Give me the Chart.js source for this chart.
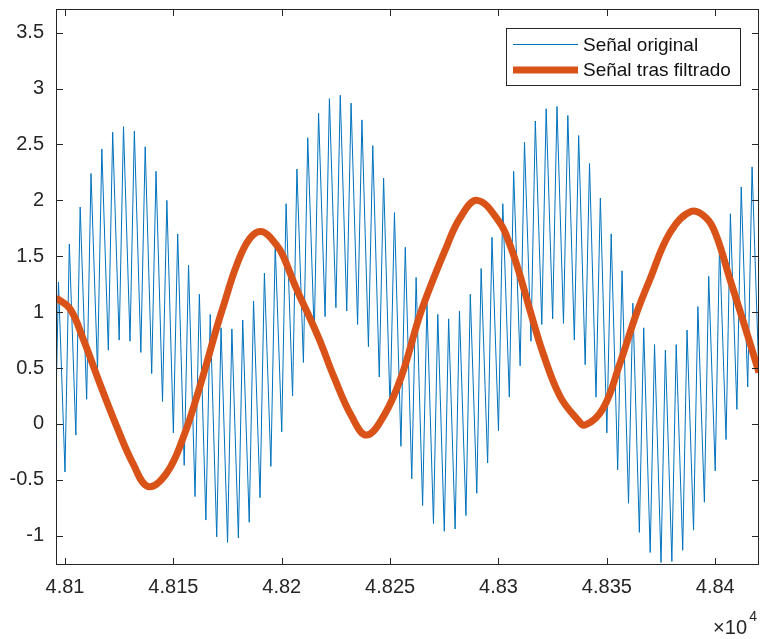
<!DOCTYPE html>
<html>
<head>
<meta charset="utf-8">
<script src="https://cdn.jsdelivr.net/npm/chart.js@4.4.0/dist/chart.umd.min.js"></script>
<style>
  html, body { margin: 0; padding: 0; background: #fff; }
</style>
</head>
<body>
<canvas id="chart" width="761" height="639"></canvas>
<script>
// ── Data ──────────────────────────────────────────────────────────────────────
// original signal: sample index of first spike, spike spacing, peak→trough gap
const firstPeakX   = 48097;
const spikePeriod  = 5;
const troughOffset = 3;
const edgeX        = 48095.85;   // left edge of the view
const edgeValue    = 0.19;

const peakValues = [
    1.27, 1.61, 1.94, 2.24, 2.46, 2.61, 2.66, 2.62, 2.48, 2.26,
    2.00, 1.70, 1.42, 1.16, 0.98, 0.86, 0.85, 0.93, 1.10, 1.35,
    1.60, 1.97, 2.28, 2.56, 2.78, 2.91, 2.94, 2.87, 2.72, 2.49,
    2.20, 1.89, 1.58, 1.31, 1.08, 0.98, 0.94, 1.01, 1.16, 1.39,
    1.67, 1.97, 2.26, 2.52, 2.71, 2.82, 2.84, 2.76, 2.58, 2.33,
    2.02, 1.70, 1.37, 1.08, 0.86, 0.71, 0.66, 0.71, 0.84, 1.05,
    1.32, 1.61, 1.88, 2.12, 2.30
];
const troughValues = [
    -0.43, -0.10, 0.22, 0.48, 0.66, 0.75, 0.74, 0.64, 0.45, 0.20,
    -0.08, -0.37, -0.65, -0.86, -1.01, -1.06, -1.02, -0.88, -0.66, -0.38,
    -0.07, 0.25, 0.55, 0.80, 0.96, 1.04, 1.01, 0.89, 0.69, 0.42,
    0.13, -0.20, -0.49, -0.73, -0.89, -0.96, -0.94, -0.82, -0.62, -0.35,
    -0.06, 0.24, 0.52, 0.74, 0.89, 0.94, 0.90, 0.75, 0.53, 0.24,
    -0.08, -0.41, -0.71, -0.97, -1.15, -1.24, -1.23, -1.13, -0.95, -0.70,
    -0.42, -0.14, 0.13, 0.33, 0.52
];

// filtered signal, read at points along the curve
const filteredX = [
    48095.8, 48102.3, 48108.4, 48116.1, 48123.8, 48131.5, 48138.4, 48146.9, 48154.6, 48162.3,
    48170.0, 48173.0, 48179.2, 48185.3, 48191.0, 48197.6, 48200.7, 48206.1, 48216.8, 48224.5,
    48232.2, 48239.2, 48247.6, 48255.3, 48263.0, 48267.6, 48275.3, 48282.2, 48290.2, 48300.6,
    48305.3, 48309.9, 48314.5, 48320.6, 48328.3, 48336.0, 48340.0, 48348.3, 48356.0, 48363.7,
    48369.8, 48379.1, 48388.8, 48396.0, 48400.6, 48406.7, 48412.9, 48420.2
];
const filteredValues = [
    1.13, 1.03, 0.76, 0.36, -0.02, -0.36, -0.56, -0.44, -0.12, 0.34,
    0.86, 1.05, 1.42, 1.66, 1.72, 1.60, 1.50, 1.24, 0.78, 0.40,
    0.07, -0.10, 0.09, 0.43, 0.93, 1.18, 1.55, 1.84, 2.00, 1.80,
    1.60, 1.33, 1.02, 0.63, 0.25, 0.05, -0.01, 0.14, 0.54, 0.99,
    1.29, 1.71, 1.90, 1.84, 1.68, 1.30, 0.92, 0.46
];

const seriesLabels = ['Señal original', 'Señal tras filtrado'];
const xRange = [48095.85, 48420.2];
const yRange = [-1.262, 3.712];
const xStep = 50;
const yStep = 0.5;

const BLUE = '#0072BD';
const RED  = '#D95319';
const AXIS = '#262626';
const FONT = "'Liberation Sans', Arial, Helvetica, sans-serif";

// ── Build point lists ─────────────────────────────────────────────────────────
const originalPoints = [{ x: edgeX, y: edgeValue }];
peakValues.forEach((v, i) => {
    const px = firstPeakX + i * spikePeriod;
    originalPoints.push({ x: px, y: v });
    originalPoints.push({ x: px + troughOffset, y: troughValues[i] });
});

const filteredPoints = filteredX.map((x, i) => ({ x, y: filteredValues[i] }));

// ── MATLAB-style box, inward ticks, legend and exponent ──────────────────────
const matlabFrame = {
    id: 'matlabFrame',
    afterDraw(chart) {
        const { ctx, chartArea: a, scales } = chart;
        const tick = 7;
        ctx.save();
        ctx.strokeStyle = AXIS;
        ctx.lineWidth = 1;
        ctx.strokeRect(a.left + 0.5, a.top + 0.5, a.right - a.left - 1, a.bottom - a.top - 1);

        ctx.beginPath();
        scales.x.ticks.forEach(t => {
            const px = Math.round(scales.x.getPixelForValue(t.value)) + 0.5;
            ctx.moveTo(px, a.bottom); ctx.lineTo(px, a.bottom - tick);
            ctx.moveTo(px, a.top);    ctx.lineTo(px, a.top + tick);
        });
        scales.y.ticks.forEach(t => {
            const py = Math.round(scales.y.getPixelForValue(t.value)) + 0.5;
            ctx.moveTo(a.left, py);  ctx.lineTo(a.left + tick, py);
            ctx.moveTo(a.right, py); ctx.lineTo(a.right - tick, py);
        });
        ctx.stroke();

        // legend
        const box = { x: 506.5, y: 28.5, w: 234, h: 57 };
        ctx.fillStyle = '#fff';
        ctx.fillRect(box.x, box.y, box.w, box.h);
        ctx.strokeRect(box.x, box.y, box.w, box.h);
        const rows = [
            { label: seriesLabels[0], color: BLUE, width: 1, y: 44.5 },
            { label: seriesLabels[1], color: RED,  width: 7, y: 70 }
        ];
        ctx.font = '19px ' + FONT;
        ctx.textBaseline = 'middle';
        ctx.textAlign = 'left';
        rows.forEach(r => {
            ctx.beginPath();
            ctx.strokeStyle = r.color;
            ctx.lineWidth = r.width;
            ctx.moveTo(513, r.y); ctx.lineTo(578, r.y);
            ctx.stroke();
            ctx.fillStyle = '#111';
            ctx.fillText(r.label, 583, r.y + 1);
        });

        // ×10^4
        ctx.fillStyle = AXIS;
        ctx.textBaseline = 'alphabetic';
        ctx.textAlign = 'right';
        ctx.font = '20px ' + FONT;
        ctx.fillText('\u00d710', 747, 634);
        ctx.font = '14px ' + FONT;
        ctx.fillText('4', 757, 621);
        ctx.restore();
    }
};

Chart.defaults.font.family = FONT;
Chart.defaults.font.size = 20;
Chart.defaults.color = AXIS;

new Chart(document.getElementById('chart'), {
    type: 'line',
    data: {
        datasets: [
            {
                label: seriesLabels[1],
                data: filteredPoints,
                borderColor: RED,
                borderWidth: 7,
                pointRadius: 0,
                tension: 0.4,
                order: 0
            },
            {
                label: seriesLabels[0],
                data: originalPoints,
                borderColor: BLUE,
                borderWidth: 1,
                pointRadius: 0,
                tension: 0,
                order: 1
            }
        ]
    },
    options: {
        responsive: false,
        animation: false,
        layout: { padding: { top: 9, right: 2, left: 0, bottom: 0 } },
        plugins: { legend: { display: false }, tooltip: { enabled: false } },
        scales: {
            x: {
                type: 'linear',
                min: xRange[0],
                max: xRange[1],
                grid: { display: false, drawTicks: false },
                border: { display: false },
                ticks: {
                    stepSize: xStep,
                    includeBounds: false,
                    maxRotation: 0,
                    padding: 10,
                    callback: v => String(+(v / 1e4).toFixed(4))
                },
                afterFit: s => {
                    s.height = 74;
                    s.paddingLeft = 0;
                    s.paddingRight = 0;
                }
            },
            y: {
                type: 'linear',
                min: yRange[0],
                max: yRange[1],
                grid: { display: false, drawTicks: false },
                border: { display: false },
                ticks: {
                    stepSize: yStep,
                    includeBounds: false,
                    padding: 12,
                    callback: v => String(+v.toFixed(2))
                },
                afterFit: s => {
                    s.width = 56;
                    s.paddingTop = 0;
                    s.paddingBottom = 0;
                }
            }
        }
    },
    plugins: [matlabFrame]
});
</script>
</body>
</html>
